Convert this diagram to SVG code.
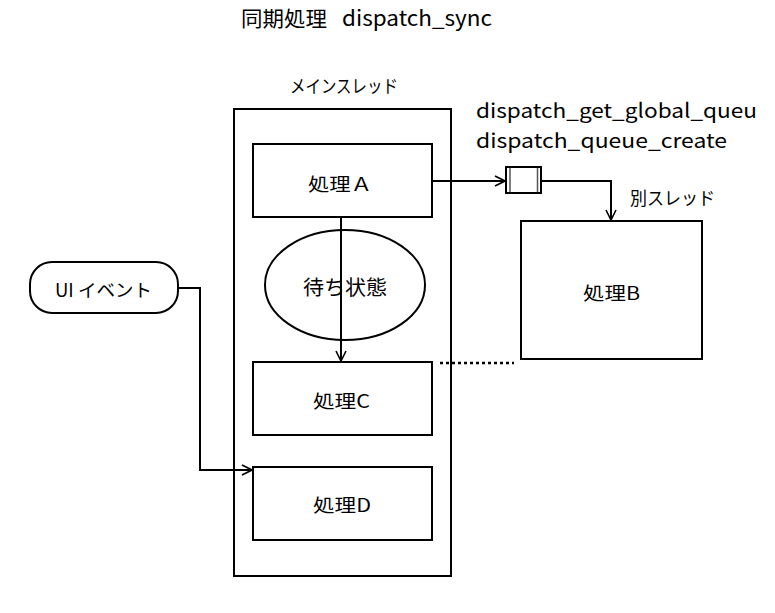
<svg xmlns="http://www.w3.org/2000/svg" width="775" height="613" viewBox="0 0 775 613">
<style>
text{font-family:"Noto Sans CJK JP","Noto Sans",sans-serif;fill:#000}
.box{fill:#fff;stroke:#000;stroke-width:2}
.ln{fill:none;stroke:#000;stroke-width:2}
</style>
<defs>
<marker id="arr" viewBox="0 0 12 12" refX="11" refY="6" markerWidth="12" markerHeight="12" markerUnits="userSpaceOnUse" orient="auto">
<path d="M1,1 L11,6 L1,11" fill="none" stroke="#000" stroke-width="1.6"/>
</marker>
</defs>
<rect width="775" height="613" fill="#fff"/>
<g id="title">
<text x="241" y="26" font-size="21" textLength="86" lengthAdjust="spacingAndGlyphs">同期処理</text>
<text x="342" y="26" font-size="21" textLength="150" lengthAdjust="spacingAndGlyphs">dispatch_sync</text>
</g>
<g id="main-thread">
<rect class="box" x="234" y="109" width="217" height="467"/>
<text x="290" y="93" font-size="18" textLength="108" lengthAdjust="spacingAndGlyphs">メインスレッド</text>
</g>
<g id="labels-api">
<text x="476" y="118" font-size="20" textLength="281" lengthAdjust="spacingAndGlyphs">dispatch_get_global_queu</text>
<text x="476" y="148" font-size="20" textLength="251" lengthAdjust="spacingAndGlyphs">dispatch_queue_create</text>
</g>
<g id="nodeA">
<rect class="box" x="253" y="144" width="179" height="73"/>
<text x="308" y="191" font-size="18" textLength="64" lengthAdjust="spacingAndGlyphs">処理Ａ</text>
</g>
<g id="wait">
<ellipse class="box" cx="345" cy="285" rx="80" ry="55" stroke-width="1.5"/>
<text x="303" y="295" font-size="20" textLength="84" lengthAdjust="spacingAndGlyphs">待ち状態</text>
</g>
<g id="nodeC">
<rect class="box" x="253" y="362" width="179" height="73"/>
<text x="313" y="408" font-size="18" textLength="57" lengthAdjust="spacingAndGlyphs">処理C</text>
</g>
<g id="nodeD">
<rect class="box" x="253" y="467" width="179" height="73"/>
<text x="313" y="512" font-size="18" textLength="58" lengthAdjust="spacingAndGlyphs">処理D</text>
</g>
<g id="nodeB">
<rect class="box" x="521" y="221" width="181" height="138"/>
<text x="583" y="300" font-size="18" textLength="57" lengthAdjust="spacingAndGlyphs">処理B</text>
</g>
<g id="other-thread">
<text x="630" y="205" font-size="18" textLength="85" lengthAdjust="spacingAndGlyphs">別スレッド</text>
</g>
<g id="queue">
<rect x="506" y="167" width="35" height="26" fill="#fff" stroke="#000" stroke-width="2"/>
<line x1="510" y1="168" x2="510" y2="192" stroke="#555" stroke-width="1.5"/>
<line x1="537.5" y1="168" x2="537.5" y2="192" stroke="#555" stroke-width="1.5"/>
</g>
<g id="uievent">
<rect class="box" x="30" y="262" width="148" height="51" rx="22" ry="22"/>
<text x="55" y="297" font-size="18" textLength="97" lengthAdjust="spacingAndGlyphs">UI イベント</text>
</g>
<g id="connectors">
<path class="ln" d="M432,181 L505,181" marker-end="url(#arr)"/>
<path class="ln" d="M541,181 L611,181 L611,220" marker-end="url(#arr)"/>
<path class="ln" d="M341,217 L341,361" marker-end="url(#arr)"/>
<path class="ln" d="M178,288 L200,288 L200,470 L252,470" marker-end="url(#arr)"/>
<path d="M440,363 L514,363" fill="none" stroke="#000" stroke-width="2.5" stroke-dasharray="3 3"/>
</g>
</svg>
